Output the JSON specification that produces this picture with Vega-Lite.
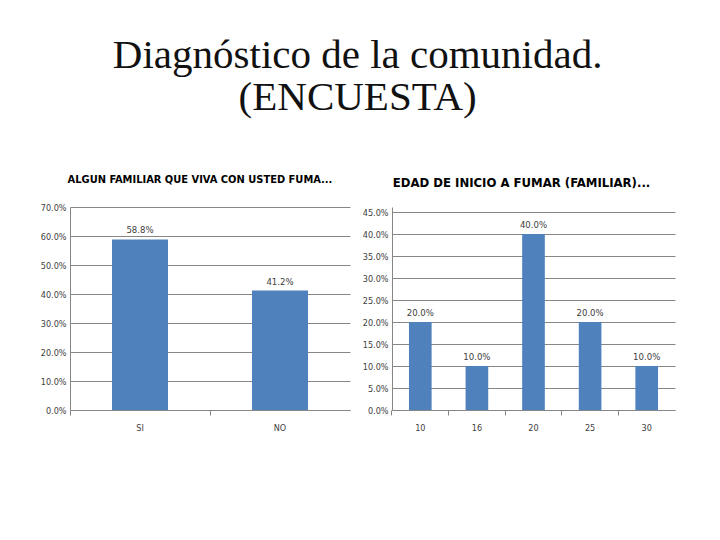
{
  "$schema": "https://vega.github.io/schema/vega-lite/v6.json",
  "background": "#ffffff",
  "padding": {"left": 40, "top": 35, "right": 30, "bottom": 10},
  "title": {
    "text": ["Diagnóstico de la comunidad.", "(ENCUESTA)"],
    "font": "Liberation Serif",
    "fontSize": 41,
    "fontWeight": "normal",
    "color": "#111111",
    "lineHeight": 42,
    "anchor": "middle",
    "offset": 55
  },
  "datasets": {
    "fuma": [
      {"respuesta": "SI", "porcentaje": 0.588},
      {"respuesta": "NO", "porcentaje": 0.412}
    ],
    "edad": [
      {"edad": "10", "porcentaje": 0.20},
      {"edad": "16", "porcentaje": 0.10},
      {"edad": "20", "porcentaje": 0.40},
      {"edad": "25", "porcentaje": 0.20},
      {"edad": "30", "porcentaje": 0.10}
    ]
  },
  "spacing": 42,
  "bounds": "flush",
  "hconcat": [
    {
      "width": 280,
      "height": 203,
      "data": {"name": "fuma"},
      "title": {
        "text": "ALGUN FAMILIAR QUE VIVA CON USTED FUMA...",
        "font": "DejaVu Sans Condensed, Liberation Sans, sans-serif",
        "fontSize": 11,
        "fontWeight": "bold",
        "color": "#000000",
        "anchor": "middle",
        "dx": -10,
        "offset": 18
      },
      "encoding": {
        "x": {
          "field": "respuesta",
          "type": "nominal",
          "sort": null,
          "scale": {"paddingInner": 0.6, "paddingOuter": 0.3},
          "axis": {"title": null, "labelAngle": 0, "bandPosition": -0.75, "grid": false}
        },
        "y": {
          "field": "porcentaje",
          "type": "quantitative",
          "scale": {"domain": [0, 0.7], "nice": false},
          "axis": {"title": null, "format": ".1%", "values": [0, 0.1, 0.2, 0.3, 0.4, 0.5, 0.6, 0.7]}
        }
      },
      "layer": [
        {"mark": {"type": "bar", "color": "#4f81bd"}},
        {
          "mark": {"type": "text", "dy": -9, "font": "DejaVu Sans Condensed, Liberation Sans, sans-serif", "fontSize": 9.5, "color": "#404040"},
          "encoding": {"text": {"field": "porcentaje", "type": "quantitative", "format": ".1%"}}
        }
      ]
    },
    {
      "width": 283,
      "height": 203,
      "data": {"name": "edad"},
      "title": {
        "text": "EDAD DE INICIO A FUMAR (FAMILIAR)...",
        "font": "DejaVu Sans Condensed, Liberation Sans, sans-serif",
        "fontSize": 13,
        "fontWeight": "bold",
        "color": "#000000",
        "anchor": "middle",
        "dx": -12,
        "offset": 17
      },
      "encoding": {
        "x": {
          "field": "edad",
          "type": "nominal",
          "sort": null,
          "scale": {"paddingInner": 0.6, "paddingOuter": 0.3},
          "axis": {"title": null, "labelAngle": 0, "bandPosition": -0.75, "grid": false}
        },
        "y": {
          "field": "porcentaje",
          "type": "quantitative",
          "scale": {"domain": [0, 0.4614], "nice": false},
          "axis": {"title": null, "format": ".1%", "values": [0, 0.05, 0.1, 0.15, 0.2, 0.25, 0.3, 0.35, 0.4, 0.45]}
        }
      },
      "layer": [
        {"mark": {"type": "bar", "color": "#4f81bd"}},
        {
          "mark": {"type": "text", "dy": -9, "font": "DejaVu Sans Condensed, Liberation Sans, sans-serif", "fontSize": 9.5, "color": "#404040"},
          "encoding": {"text": {"field": "porcentaje", "type": "quantitative", "format": ".1%"}}
        }
      ]
    }
  ],
  "config": {
    "view": {"stroke": null},
    "axis": {
      "labelFont": "DejaVu Sans Condensed, Liberation Sans, sans-serif",
      "labelFontSize": 9,
      "labelColor": "#404040",
      "domainColor": "#868686",
      "tickColor": "#868686",
      "gridColor": "#868686",
      "tickSize": 5,
      "labelPadding": 4
    },
    "axisY": {"ticks": false, "grid": true},
    "axisX": {"labelPadding": 8}
  }
}
